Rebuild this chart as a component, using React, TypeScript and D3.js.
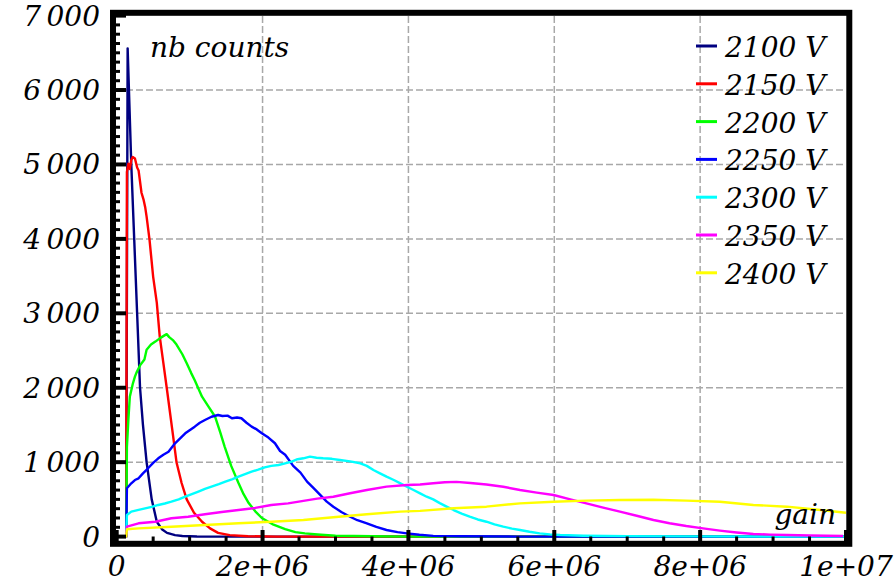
import React from "react";
import * as d3 from "d3";

// ---- data (gain in units of 1e6, counts) ----
const seriesNames = ["2100 V", "2150 V", "2200 V", "2250 V", "2300 V", "2350 V", "2400 V"];
const seriesColors = ["#000080", "#ff0000", "#00ff00", "#0000ff", "#00ffff", "#ff00ff", "#ffff00"];

const v2100: [number, number][] = [
  [0, 0], [0.13, 0], [0.15, 6560], [0.2, 5000], [0.24, 4000], [0.28, 3000], [0.32, 2000],
  [0.36, 1500], [0.41, 1000], [0.48, 500], [0.55, 200], [0.62, 100], [0.69, 50], [0.8, 20],
  [0.9, 8], [1.1, 2], [1.5, 0], [10, 0],
];
const v2150: [number, number][] = [
  [0, 0], [0.13, 0], [0.14, 4900], [0.16, 5010], [0.18, 4940], [0.2, 5060], [0.22, 5100],
  [0.25, 5080], [0.28, 4960], [0.3, 4920], [0.34, 4620], [0.37, 4520], [0.39, 4430],
  [0.41, 4300], [0.45, 3990], [0.5, 3490], [0.55, 3140], [0.59, 2690], [0.64, 2330],
  [0.69, 1970], [0.76, 1450], [0.82, 1000], [0.89, 720], [0.96, 500], [1.06, 320],
  [1.17, 200], [1.28, 110], [1.39, 50], [1.55, 20], [1.8, 5], [2.2, 0], [10, 0],
];
const v2200: [number, number][] = [
  [0, 0], [0.13, 0], [0.14, 1200], [0.16, 1570], [0.18, 1880], [0.22, 2050], [0.25, 2150],
  [0.27, 2200], [0.32, 2300], [0.38, 2380], [0.41, 2510], [0.47, 2580], [0.53, 2620],
  [0.6, 2670], [0.65, 2700], [0.685, 2720], [0.72, 2680], [0.77, 2640], [0.82, 2580],
  [0.9, 2450], [0.96, 2330], [1.02, 2200], [1.07, 2100], [1.12, 1990], [1.17, 1880],
  [1.25, 1760], [1.35, 1610], [1.42, 1400], [1.48, 1210], [1.57, 950], [1.67, 720],
  [1.74, 570], [1.81, 450], [1.9, 340], [1.99, 250], [2.15, 160], [2.31, 100], [2.45, 60],
  [2.58, 44], [2.8, 25], [3.0, 12], [3.5, 4], [4, 0], [10, 0],
];
const v2250: [number, number][] = [
  [0, 0], [0.13, 0], [0.14, 650], [0.2, 716], [0.25, 760], [0.3, 783], [0.36, 850],
  [0.43, 918], [0.5, 990], [0.57, 1052], [0.64, 1100], [0.71, 1141], [0.8, 1254],
  [0.87, 1320], [0.94, 1388], [1.0, 1430], [1.07, 1477], [1.14, 1530], [1.21, 1567],
  [1.3, 1610], [1.39, 1634], [1.45, 1620], [1.52, 1625], [1.58, 1590], [1.65, 1600],
  [1.71, 1590], [1.78, 1530], [1.85, 1477], [1.92, 1440], [1.99, 1388], [2.08, 1330],
  [2.17, 1254], [2.24, 1150], [2.31, 1100], [2.42, 950], [2.52, 860], [2.61, 738],
  [2.7, 650], [2.79, 560], [2.88, 470], [2.97, 402], [3.08, 330], [3.2, 267], [3.3, 220],
  [3.43, 179], [3.56, 130], [3.7, 89], [3.85, 60], [3.98, 44], [4.15, 25], [4.34, 10],
  [4.7, 4], [5.5, 0], [10, 0],
];
const v2300: [number, number][] = [
  [0, 0], [0.13, 0], [0.14, 290], [0.2, 335], [0.3, 360], [0.39, 380], [0.48, 400],
  [0.57, 425], [0.66, 445], [0.75, 469], [0.85, 500], [0.94, 536], [1.03, 570],
  [1.12, 604], [1.21, 640], [1.3, 671], [1.4, 705], [1.49, 738], [1.58, 770], [1.67, 805],
  [1.76, 840], [1.85, 872], [1.94, 900], [2.03, 931], [2.12, 950], [2.22, 962],
  [2.31, 985], [2.4, 1007], [2.48, 1040], [2.56, 1052], [2.65, 1074], [2.74, 1060],
  [2.83, 1052], [2.95, 1045], [3.06, 1030], [3.2, 1010], [3.34, 985], [3.43, 950],
  [3.52, 895], [3.61, 850], [3.7, 805], [3.8, 760], [3.89, 716], [3.98, 670], [4.07, 626],
  [4.16, 580], [4.25, 536], [4.34, 500], [4.43, 450], [4.53, 400], [4.62, 357], [4.73, 310],
  [4.84, 268], [4.95, 230], [5.07, 200], [5.18, 165], [5.3, 133], [5.42, 108], [5.53, 89],
  [5.66, 65], [5.8, 44], [5.94, 30], [6.08, 22], [6.4, 12], [7, 6], [8, 3], [9, 2], [10, 1],
];
const v2350: [number, number][] = [
  [0, 0], [0.13, 0], [0.14, 133], [0.3, 179], [0.53, 200], [0.75, 246], [0.98, 267],
  [1.21, 300], [1.44, 330], [1.67, 357], [1.9, 385], [2.12, 425], [2.35, 447], [2.56, 480],
  [2.75, 510], [2.97, 536], [3.2, 582], [3.43, 626], [3.7, 671], [3.98, 694], [4.16, 700],
  [4.34, 716], [4.5, 730], [4.66, 735], [4.85, 720], [5.07, 700], [5.3, 670], [5.53, 626],
  [5.76, 590], [5.99, 559], [6.22, 500], [6.44, 447], [6.67, 390], [6.9, 335], [7.13, 280],
  [7.36, 223], [7.58, 180], [7.81, 142], [8.04, 110], [8.27, 80], [8.5, 55], [8.73, 35],
  [8.96, 27], [9.19, 22], [9.5, 14], [9.96, 8],
];
const v2400: [number, number][] = [
  [0, 0], [0.13, 0], [0.14, 98], [0.3, 111], [0.75, 133], [1.21, 156], [1.67, 179],
  [2.12, 200], [2.56, 223], [2.97, 260], [3.43, 300], [3.89, 335], [4.16, 345], [4.62, 380],
  [5.07, 402], [5.53, 447], [5.99, 469], [6.44, 483], [6.9, 492], [7.36, 495], [7.81, 483],
  [8.27, 469], [8.73, 425], [9.19, 402], [9.65, 357], [10, 321],
];
const seriesData = [v2100, v2150, v2200, v2250, v2300, v2350, v2400];

const xTicks = [0, 2e6, 4e6, 6e6, 8e6, 1e7];
const xTickLabels = ["0", "2e+06", "4e+06", "6e+06", "8e+06", "1e+07"];
const yTicks = [0, 1000, 2000, 3000, 4000, 5000, 6000, 7000];
const yTickLabels = ["0", "1\u2009000", "2\u2009000", "3\u2009000", "4\u2009000", "5\u2009000", "6\u2009000", "7\u2009000"];
const yLabel = "nb counts";
const xLabel = "gain";

export default function App() {
  const W = 895, H = 586;
  const x = d3.scaleLinear().domain([0, 1e7]).range([116.7, 846]);
  const y = d3.scaleLinear().domain([0, 7000]).range([536.6, 15.6]);
  const line = d3.line<[number, number]>().x((d) => x(d[0] * 1e6)).y((d) => y(d[1]));
  const font = { fontFamily: "'DejaVu Serif', serif", fontStyle: "italic" as const, fontSize: 28 };

  const yMinor = d3.range(0, 7001, 125).filter((v) => v % 1000 !== 0);
  const xMinor = d3.range(0, 1e7 + 1, 5e5).filter((v) => v % 2e6 !== 0);
  const innerLeft = 116, innerBottom = 541;

  return (
    <svg width={W} height={H} style={{ position: "absolute", left: 0, top: 0, background: "#fff" }}>
      <defs>
        <clipPath id="plotclip">
          <rect x={116} y={15} width={730} height={526} />
        </clipPath>
      </defs>
      {/* grid */}
      {xTicks.slice(1, -1).map((t) => (
        <line key={"gx" + t} x1={x(t)} x2={x(t)} y1={16} y2={innerBottom} stroke="#a8a8a8" strokeWidth={1.5} strokeDasharray="7,3" />
      ))}
      {yTicks.slice(1, -1).map((t) => (
        <line key={"gy" + t} x1={innerLeft} x2={846} y1={y(t)} y2={y(t)} stroke="#a8a8a8" strokeWidth={1.5} strokeDasharray="7,3" />
      ))}
      {/* series */}
      <g clipPath="url(#plotclip)">
        {seriesData.map((s, i) => (
          <path key={seriesNames[i]} d={line(s) || ""} fill="none" stroke={seriesColors[i]} strokeWidth={2.4} strokeLinejoin="round" />
        ))}
      </g>
      {/* ticks */}
      {yMinor.map((t) => (
        <line key={"ym" + t} x1={innerLeft - 1} x2={120} y1={y(t)} y2={y(t)} stroke="#000" strokeWidth={3} />
      ))}
      {yTicks.map((t) => (
        <line key={"yM" + t} x1={innerLeft - 1} x2={126} y1={y(t)} y2={y(t)} stroke="#000" strokeWidth={4} />
      ))}
      {xMinor.map((t) => (
        <line key={"xm" + t} x1={x(t)} x2={x(t)} y1={innerBottom + 1} y2={536.5} stroke="#000" strokeWidth={3} />
      ))}
      {xTicks.map((t) => (
        <line key={"xM" + t} x1={x(t)} x2={x(t)} y1={innerBottom + 1} y2={530} stroke="#000" strokeWidth={4} />
      ))}
      {/* frame */}
      <rect x={113} y={12.8} width={736.3} height={531} fill="none" stroke="#000" strokeWidth={6} />
      {/* tick labels */}
      {yTicks.map((t, i) => (
        <text key={"yl" + t} x={100} y={y(t) + 10} textAnchor="end" {...font}>{yTickLabels[i]}</text>
      ))}
      {xTicks.map((t, i) => (
        <text key={"xl" + t} x={x(t)} y={576} textAnchor="middle" {...font}>{xTickLabels[i]}</text>
      ))}
      {/* axis labels */}
      <text x={150} y={57} {...font}>{yLabel}</text>
      <text x={836} y={524} textAnchor="end" {...font}>{xLabel}</text>
      {/* legend */}
      {seriesNames.map((n, i) => {
        const ly = 46 + i * 37.8;
        return (
          <g key={"lg" + n}>
            <line x1={696} x2={717} y1={ly} y2={ly} stroke={seriesColors[i]} strokeWidth={3} />
            <text x={725} y={ly + 11} {...font}>{n}</text>
          </g>
        );
      })}
    </svg>
  );
}
